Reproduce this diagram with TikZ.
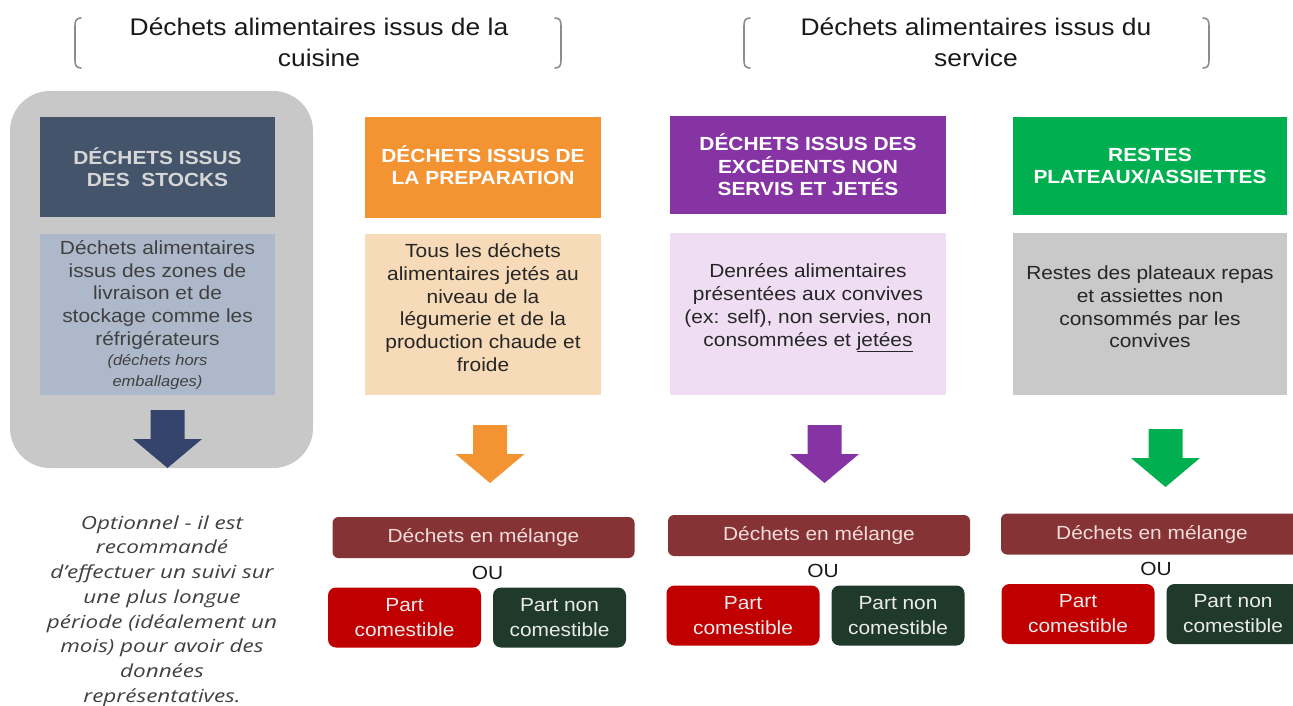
\documentclass[tikz,border=0pt]{standalone}
\usepackage{fontspec}
\setmainfont{Liberation Sans}[FakeStretch=1.1]
\newfontfamily\notefont{Open Sans}[FakeStretch=1.25]
\usetikzlibrary{positioning}

\definecolor{fondgris}{HTML}{C8C8C8}
\definecolor{ardoise}{HTML}{44546A}
\definecolor{ardoisetxt}{HTML}{D6D6D6}
\definecolor{ardoiseclair}{HTML}{ADB9CA}
\definecolor{marine}{HTML}{34446C}
\definecolor{orange}{HTML}{F39332}
\definecolor{peche}{HTML}{F7DAB8}
\definecolor{violet}{HTML}{8634A4}
\definecolor{lavande}{HTML}{EFDEF3}
\definecolor{vert}{HTML}{00B050}
\definecolor{grisclair}{HTML}{C9C9C9}
\definecolor{bordeaux}{HTML}{863336}
\definecolor{bordeauxtxt}{HTML}{F2DCDB}
\definecolor{rouge}{HTML}{C00000}
\definecolor{vertfonce}{HTML}{1F3A2B}

\tikzset{
  fleche/.pic={\fill (-17,0) -- (17,0) -- (17,29) -- (34.5,29) -- (0,58) -- (-34.5,29) -- (-17,29) -- cycle;}
}

\begin{document}
\begin{tikzpicture}[x=1pt, y=-1pt,
    every node/.style={inner sep=0pt, align=center},
    titre/.style={font=\fontsize{24}{31}\selectfont, text=black!90},
    brk/.style={draw=gray!90, line width=1.6pt, line cap=round},
    entete/.style={minimum width=236, minimum height=100, font=\bfseries\fontsize{19}{22.5}\selectfont, text=white},
    corps/.style={minimum width=236, minimum height=161},
    corpstxt/.style={font=\fontsize{19}{22.7}\selectfont, text=black!85},
    melange/.style={minimum width=302, minimum height=41, rounded corners=6pt, fill=bordeaux, text=bordeauxtxt, font=\fontsize{19}{23}\selectfont},
    ou/.style={font=\fontsize{19}{23}\selectfont, text=black!90},
    partc/.style={minimum width=153, minimum height=60, rounded corners=8pt, fill=rouge, text=white!92!black, font=\fontsize{19}{25}\selectfont},
    partn/.style={partc, minimum width=133, fill=vertfonce},
    note/.style={font=\notefont\itshape\fontsize{18}{24.7}\selectfont, text=black!75}
]
\useasboundingbox (0,0) rectangle (1293,706);
\clip (0,0) rectangle (1293,706);

% titres entre crochets
\node[titre] (t1) at (319,42.5) {Déchets alimentaires issus de la\\cuisine};
\node[titre] (t2) at (976,42.5) {Déchets alimentaires issus du\\service};
\draw[brk] (81,18) .. controls (76,18) and (75,21) .. (75,26) -- (75,60) .. controls (75,65) and (76,68) .. (81,68);
\draw[brk] (555,18) .. controls (560,18) and (561,21) .. (561,26) -- (561,60) .. controls (561,65) and (560,68) .. (555,68);
\draw[brk] (750,18) .. controls (745,18) and (744,21) .. (744,26) -- (744,60) .. controls (744,65) and (745,68) .. (750,68);
\draw[brk] (1203,18) .. controls (1208,18) and (1209,21) .. (1209,26) -- (1209,60) .. controls (1209,65) and (1208,68) .. (1203,68);

% stocks (optionnel)
\node[minimum width=303, minimum height=377, rounded corners=40pt, fill=fondgris] (cadre) at (161.5,279.5) {};
\node[entete, minimum width=235, fill=ardoise, text=ardoisetxt] (hstock) at (157.5,167) {DÉCHETS ISSUS\\DES~~STOCKS};
\node[corps, minimum width=235, fill=ardoiseclair] (bstock) at (157.5,314.5) {};
\node[corpstxt, text=black!75] (dstock) at (157.5,315)
  {Déchets alimentaires\\issus des zones de\\livraison et de\\stockage comme les\\réfrigérateurs\\[-2pt]
   {\itshape\fontsize{15}{18}\selectfont (déchets hors}\\[-2pt]{\itshape\fontsize{15}{18}\selectfont emballages)}};
\pic[fill=marine] at (167.5,410) {fleche};
\node[note] (opt) at (162,611)
  {Optionnel - il est\\recommandé\\d’effectuer un suivi sur\\une plus longue\\période (idéalement un\\mois) pour avoir des\\données\\représentatives.};

% preparation
\node[entete, fill=orange] (hprep) at (483,167.5) {};
\node[font=\bfseries\fontsize{19}{22.5}\selectfont, text=white] (tprep) at (483,165) {DÉCHETS ISSUS DE\\LA PREPARATION};
\node[corps, fill=peche] (bprep) at (483,314.5) {};
\node[corpstxt] (dprep) at (483,307.5)
  {Tous les déchets\\alimentaires jetés au\\niveau de la\\légumerie et de la\\production chaude et\\froide};
\pic[fill=orange] at (490,425) {fleche};

% excedents
\node[entete, minimum width=276, minimum height=98, fill=violet] (hexc) at (808,165) {DÉCHETS ISSUS DES\\EXCÉDENTS NON\\SERVIS ET JETÉS};
\node[corps, minimum width=276, minimum height=162, fill=lavande] (bexc) at (808,314) {};
\node[corpstxt] (dexc) at (808,308)
  {Denrées alimentaires\\présentées aux convives\\(ex: self), non servies, non\\consommées et \underline{jetées}};
\pic[fill=violet] at (824.5,425) {fleche};

% restes
\node[entete, minimum width=274, minimum height=98, fill=vert] (hrest) at (1150,166) {RESTES\\PLATEAUX/ASSIETTES};
\node[corps, minimum width=274, minimum height=162, fill=grisclair] (brest) at (1150,314) {};
\node[corpstxt] (drest) at (1150,307)
  {Restes des plateaux repas\\et assiettes non\\consommés par les\\convives};
\pic[fill=vert] at (1165.5,429) {fleche};

% tri en bas
\foreach \cx/\cy/\d/\i in {483.5/537.5/0/a, 819/535.5/3/b, 1152/534/5/c}{
  \node[melange] (mel\i) at (\cx,\cy) {Déchets en mélange};
  \node[ou] (ou\i) at (\cx+4,\cy+35) {OU};
  \node[partc] (com\i) at (\cx-79+\d,\cy+80) {Part\\comestible};
  \node[partn] (non\i) at (\cx+76+\d,\cy+80) {Part non\\comestible};
}
\end{tikzpicture}
\end{document}
